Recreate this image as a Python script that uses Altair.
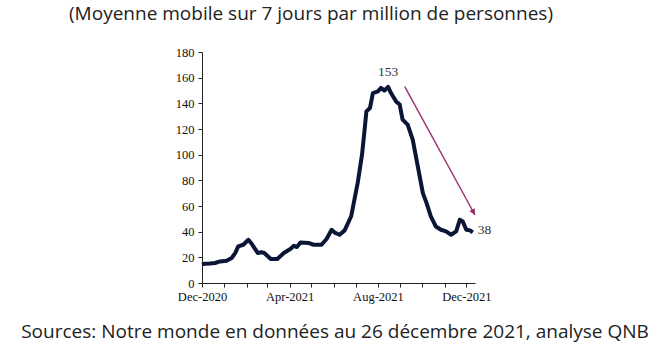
import altair as alt
import pandas as pd

dates = [
    "2020-12-01", "2020-12-05", "2020-12-12", "2020-12-19", "2020-12-26", "2021-01-04",
    "2021-01-11", "2021-01-16", "2021-01-20", "2021-01-27", "2021-02-03", "2021-02-07",
    "2021-02-16", "2021-02-21", "2021-02-25", "2021-03-06", "2021-03-15", "2021-03-24",
    "2021-04-02", "2021-04-07", "2021-04-11", "2021-04-16", "2021-04-27", "2021-05-04",
    "2021-05-15", "2021-05-22", "2021-05-29", "2021-06-03", "2021-06-09", "2021-06-16",
    "2021-06-25", "2021-07-04", "2021-07-10", "2021-07-14", "2021-07-16", "2021-07-21",
    "2021-07-25", "2021-08-01", "2021-08-05", "2021-08-10", "2021-08-15", "2021-08-19",
    "2021-08-26", "2021-08-31", "2021-09-04", "2021-09-11", "2021-09-18", "2021-09-25",
    "2021-10-02", "2021-10-07", "2021-10-13", "2021-10-20", "2021-10-27", "2021-11-03",
    "2021-11-10", "2021-11-17", "2021-11-22", "2021-11-26", "2021-12-01", "2021-12-06",
    "2021-12-10",
]
values = [
    14.5, 15.0, 15.2, 15.6, 16.8, 17.4,
    19.5, 23.5, 28.5, 29.8, 33.7, 31.0,
    23.4, 24.0, 23.4, 18.7, 18.7, 23.4,
    26.5, 29.0, 28.0, 31.6, 31.2, 29.8,
    29.8, 34.3, 41.5, 39.0, 37.6, 41.0,
    52.0, 78.0, 100.0, 122.0, 133.7, 136.4,
    148.0, 149.3, 152.0, 150.0, 152.8, 148.0,
    141.5, 139.0, 127.3, 123.4, 111.7, 90.9,
    70.0, 62.4, 52.0, 44.0, 41.5, 40.2,
    37.6, 40.2, 49.3, 48.0, 41.5, 41.0,
    39.5,
]

label_dates = ["2021-08-15", "2021-12-10"]
label_values = [152.8, 39.5]
label_texts = ["153", "38"]

arrow_dates = ["2021-09-07", "2021-12-13"]
arrow_values = [153.0, 53.0]

y_ticks = [0, 20, 40, 60, 80, 100, 120, 140, 160, 180]

title_text = "(Moyenne mobile sur 7 jours par million de personnes)"
source_text = "Sources: Notre monde en données au 26 décembre 2021, analyse QNB"

df = pd.DataFrame({"date": dates, "value": values})
lab = pd.DataFrame({"date": label_dates, "value": label_values, "text": label_texts})
arr = pd.DataFrame({"date": [arrow_dates[0]], "value": [arrow_values[0]],
                    "date2": [arrow_dates[1]], "value2": [arrow_values[1]]})
head = pd.DataFrame({"date": [arrow_dates[1]], "value": [arrow_values[1]]})

month_ticks = [alt.DateTime(year=2020 + (11 + i) // 12, month=(11 + i) % 12 + 1, date=1, utc=True)
               for i in range(13)]

xscale = alt.Scale(type="utc",
                   domain=[alt.DateTime(year=2020, month=12, date=1, utc=True),
                           alt.DateTime(year=2021, month=12, date=13, utc=True)])
yscale = alt.Scale(domain=[0, 180], nice=False)

serif = "Liberation Serif"

x = alt.X("date:T", scale=xscale, title=None,
          axis=alt.Axis(values=month_ticks,
                        labelExpr="(utcmonth(datum.value)==11 || utcmonth(datum.value)==3 || utcmonth(datum.value)==7) ? utcFormat(datum.value, '%b-%Y') : ''",
                        labelFont=serif, labelFontSize=12.5, labelColor="#111",
                        labelPadding=3, tickSize=4, tickColor="#222", domainColor="#222",
                        grid=False, labelOverlap=False, labelFlush=False))
y = alt.Y("value:Q", scale=yscale, title=None,
          axis=alt.Axis(values=y_ticks, labelFont=serif, labelFontSize=12.5,
                        labelColor="#111", tickSize=4, tickColor="#222", domainColor="#222",
                        grid=False, labelPadding=4, labelOverlap=False, labelFlush=False))

line = alt.Chart(df).mark_line(color="#0b1535", strokeWidth=4, strokeJoin="round").encode(x=x, y=y)

labels_peak = alt.Chart(lab[lab.text == "153"]).mark_text(
    font=serif, fontSize=13.5, color="#333", align="center", dy=-15
).encode(x=x, y=y, text="text:N")
labels_end = alt.Chart(lab[lab.text == "38"]).mark_text(
    font=serif, fontSize=13.5, color="#333", align="left", dx=5, dy=-2
).encode(x=x, y=y, text="text:N")

arrow_line = alt.Chart(arr).mark_rule(color="#9b2d6b", strokeWidth=1.4).encode(
    x=x, y=y, x2="date2:T", y2="value2:Q")
arrow_head = alt.Chart(head).mark_point(
    shape="M0,0 L-0.5,-1 L0.5,-1 Z", filled=True, color="#9b2d6b", size=150, angle=331.4, opacity=1
).encode(x=x, y=y)

title = alt.Chart(pd.DataFrame({"t": [title_text]})).mark_text(
    font="Open Sans", fontSize=19, color="#222", align="center", baseline="middle"
).encode(text="t:N", x=alt.value(109), y=alt.value(-38))
source = alt.Chart(pd.DataFrame({"t": [source_text]})).mark_text(
    font="Open Sans", fontSize=19, color="#222", align="center", baseline="middle"
).encode(text="t:N", x=alt.value(133), y=alt.value(280))

chart = alt.layer(line, labels_peak, labels_end, arrow_line, arrow_head, title, source).properties(
    width=273, height=231,
    autosize=alt.AutoSizeParams(type="none"),
    padding={"left": 202, "top": 52, "right": 185, "bottom": 70},
    background="white",
).configure_view(stroke=None)

chart.save("out.html", embed_options={"renderer": "svg", "actions": False})
